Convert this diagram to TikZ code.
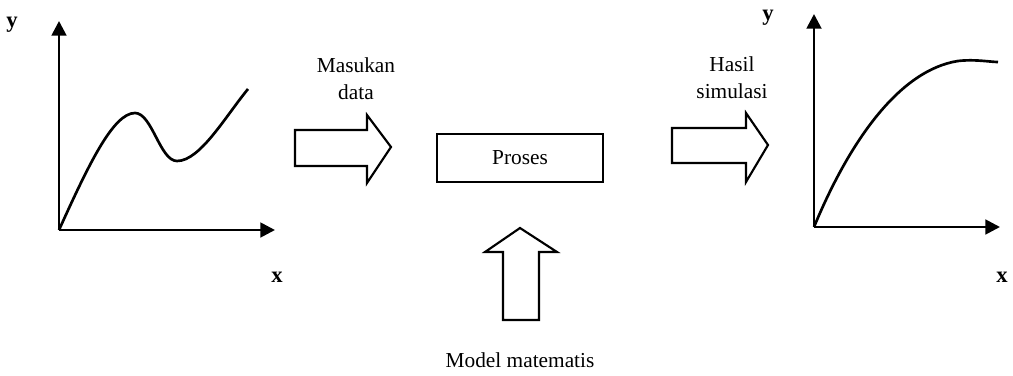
\documentclass[tikz,border=0pt]{standalone}
\usepackage{fontspec}
\setmainfont{Liberation Serif}
\usetikzlibrary{arrows.meta}
\begin{document}
\begin{tikzpicture}[x=0.75pt,y=-0.75pt,
  axis/.style={line width=2.1pt,-{Triangle[length=11pt,width=11pt]}},
  curve/.style={line width=2pt},
  blockarrow/.style={line width=1.6pt,line join=miter},
  procbox/.style={draw,line width=1.6pt,minimum width=166*0.75pt,minimum height=48*0.75pt,inner sep=0pt},
  lbl/.style={font=\fontsize{16}{20}\selectfont,align=center},
  axlbl/.style={font=\fontsize{17}{20}\selectfont\bfseries}]
\useasboundingbox (0,0) rectangle (1013,375);

% left graph
\coordinate (o1) at (59,230);
\coordinate (y1) at (59,21);
\coordinate (x1) at (275,230);
\draw[axis] (o1) -- (y1);
\draw[axis] (o1) -- (x1);
\node[axlbl] (ylab1) at (12,25) {y};
\node[axlbl] (xlab1) at (277,277) {x};
\draw[curve] (o1) .. controls (88,166) and (113,113) .. (135,113)
  .. controls (152,113) and (160,161) .. (177,161)
  .. controls (200,161) and (225,117) .. (248,89);

% input arrow
\draw[blockarrow] (295,130) -- (367,130) -- (367,115) -- (391,147) -- (367,183) -- (367,166) -- (295,166) -- cycle;
\node[lbl] (inlab) at (356,79) {Masukan\\data};

% process box
\node[procbox,lbl] (proc) at (520,158) {Proses};

% model arrow
\draw[blockarrow] (503,320) -- (503,252) -- (485,252) -- (520,228) -- (557,252) -- (539,252) -- (539,320) -- cycle;
\node[lbl] (model) at (520,360) {Model matematis};

% output arrow
\draw[blockarrow] (672,128) -- (746,128) -- (746,113) -- (768,145) -- (746,182) -- (746,163) -- (672,163) -- cycle;
\node[lbl] (outlab) at (732,78) {Hasil\\simulasi};

% right graph
\coordinate (o2) at (814,227);
\coordinate (y2) at (814,14);
\coordinate (x2) at (1000,227);
\draw[axis] (o2) -- (y2);
\draw[axis] (o2) -- (x2);
\node[axlbl] (ylab2) at (768,18) {y};
\node[axlbl] (xlab2) at (1002,277) {x};
\draw[curve] (o2) .. controls (850,140) and (900,70) .. (958,61)
  .. controls (975,59) and (990,62) .. (998,62);
\end{tikzpicture}
\end{document}
